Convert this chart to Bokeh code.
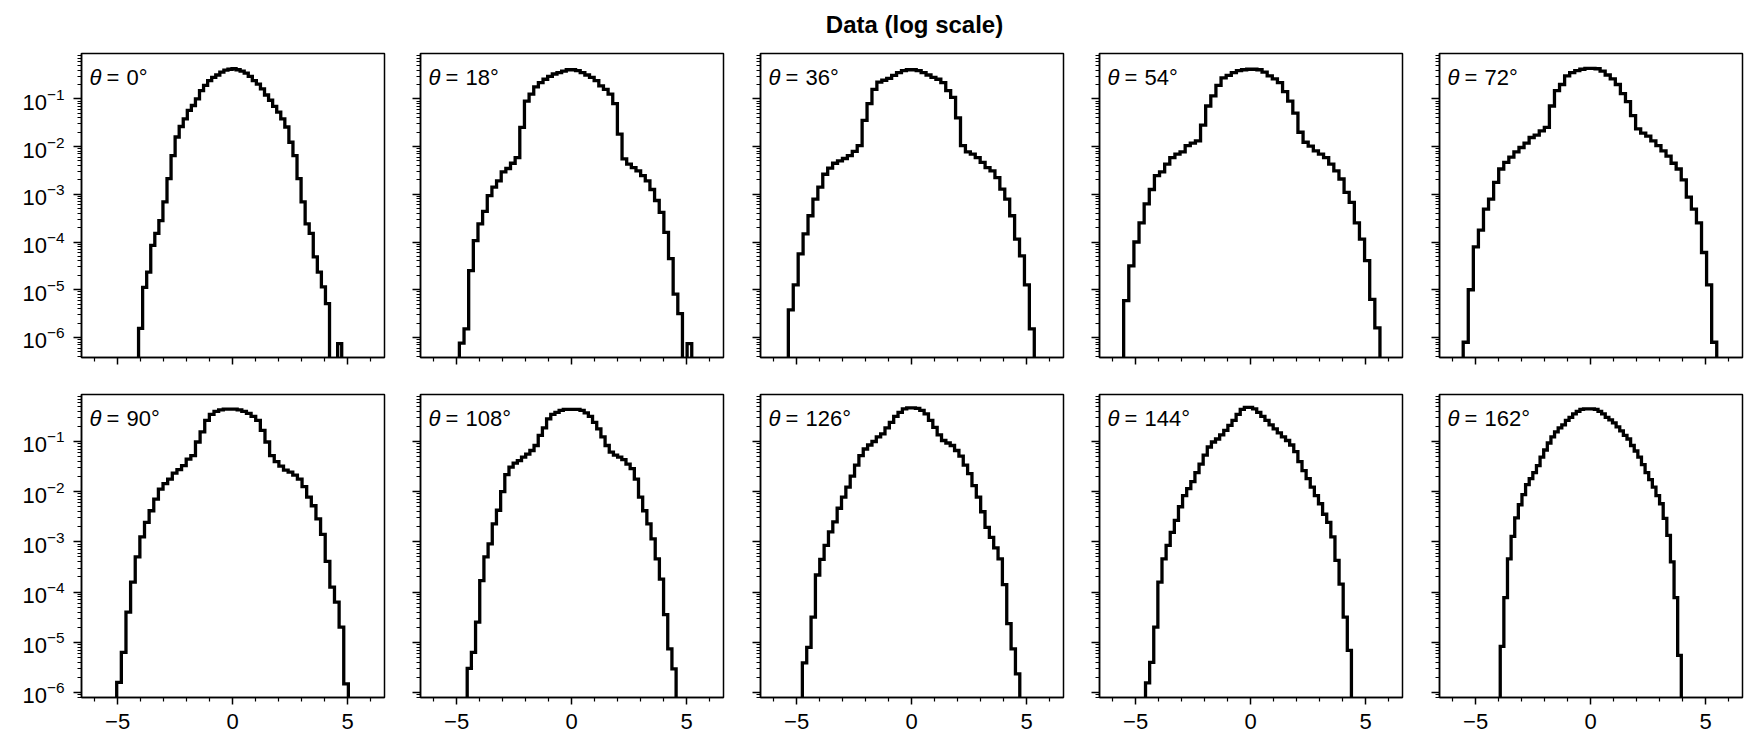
import numpy as np
from bokeh.plotting import figure
from bokeh.layouts import row, column
from bokeh.models import (Range1d, FixedTicker, CustomJSTickFormatter, Label,
                          LogTickFormatter)
from bokeh.embed import file_html
from bokeh.resources import INLINE

# ---------------- data ----------------
theta_deg = [0, 18, 36, 54, 72, 90, 108, 126, 144, 162]

# histogram range (first and last bin edge) of every panel; 50 bins each
bin_lo = [-4.09, -4.88, -5.36, -5.52, -5.54, -5.04, -4.54, -4.75, -4.57, -3.93]
bin_hi = [4.74, 5.22, 5.33, 5.62, 5.48, 5.03, 4.54, 4.70, 4.38, 3.94]

# log10(density) of every bin (None = empty bin)
log_density_0 = [-5.81, -4.95, -4.63, -4.07, -3.82, -3.55, -3.16, -2.67, -2.19, -1.80,
                 -1.58, -1.42, -1.24, -1.14, -1.00, -0.83, -0.72, -0.62, -0.55, -0.50,
                 -0.44, -0.40, -0.38, -0.37, -0.39, -0.42, -0.46, -0.53, -0.62, -0.69,
                 -0.79, -0.92, -1.03, -1.16, -1.28, -1.42, -1.59, -1.91, -2.19, -2.67,
                 -3.16, -3.62, -3.82, -4.31, -4.63, -4.94, -5.29, None, None, -6.13]
log_density_18 = [-6.12, -5.82, -4.60, -3.97, -3.62, -3.36, -3.03, -2.85, -2.72, -2.53,
                  -2.46, -2.35, -2.23, -1.60, -1.05, -0.90, -0.75, -0.66, -0.59, -0.53,
                  -0.48, -0.45, -0.42, -0.39, -0.39, -0.41, -0.45, -0.50, -0.55, -0.62,
                  -0.73, -0.80, -0.90, -1.10, -1.74, -2.26, -2.37, -2.44, -2.51, -2.61,
                  -2.72, -2.90, -3.13, -3.38, -3.80, -4.35, -5.09, -5.50, None, -6.13]
log_density_36 = [-5.42, -4.90, -4.25, -3.83, -3.45, -3.10, -2.85, -2.58, -2.45, -2.35,
                  -2.30, -2.25, -2.19, -2.10, -1.98, -1.45, -1.10, -0.80, -0.65, -0.61,
                  -0.57, -0.51, -0.45, -0.41, -0.39, -0.39, -0.41, -0.45, -0.50, -0.55,
                  -0.59, -0.66, -0.83, -0.97, -1.40, -1.98, -2.11, -2.16, -2.23, -2.33,
                  -2.44, -2.51, -2.65, -2.89, -3.10, -3.45, -3.94, -4.29, -4.90, -5.82]
log_density_54 = [-5.23, -4.50, -4.00, -3.60, -3.20, -2.90, -2.61, -2.53, -2.37, -2.23,
                  -2.16, -2.11, -1.98, -1.93, -1.88, -1.55, -1.15, -0.94, -0.72, -0.56,
                  -0.51, -0.45, -0.41, -0.39, -0.38, -0.38, -0.39, -0.44, -0.52, -0.58,
                  -0.66, -0.85, -1.05, -1.30, -1.70, -1.91, -1.99, -2.09, -2.16, -2.23,
                  -2.37, -2.51, -2.68, -2.96, -3.17, -3.60, -3.94, -4.39, -5.20, -5.80]
log_density_72 = [-6.10, -5.00, -4.10, -3.75, -3.31, -3.10, -2.75, -2.47, -2.33, -2.22,
                  -2.11, -2.02, -1.93, -1.81, -1.76, -1.67, -1.60, -1.15, -0.83, -0.70,
                  -0.52, -0.45, -0.41, -0.38, -0.36, -0.36, -0.37, -0.42, -0.50, -0.58,
                  -0.70, -0.89, -1.06, -1.35, -1.63, -1.72, -1.78, -1.88, -1.98, -2.09,
                  -2.20, -2.35, -2.47, -2.70, -3.06, -3.31, -3.60, -4.22, -4.90, -6.10]
log_density_90 = [-5.80, -5.20, -4.40, -3.80, -3.30, -2.90, -2.61, -2.38, -2.15, -1.95,
                  -1.84, -1.75, -1.63, -1.56, -1.48, -1.35, -1.28, -1.01, -0.81, -0.58,
                  -0.46, -0.40, -0.37, -0.355, -0.355, -0.355, -0.37, -0.40, -0.44, -0.50,
                  -0.58, -0.78, -1.01, -1.28, -1.40, -1.49, -1.57, -1.61, -1.67, -1.75,
                  -1.90, -2.11, -2.28, -2.54, -2.85, -3.39, -3.90, -4.20, -4.70, -5.83]
log_density_108 = [-5.52, -5.20, -4.60, -3.77, -3.30, -3.04, -2.64, -2.37, -2.00, -1.66,
                   -1.51, -1.43, -1.38, -1.31, -1.25, -1.18, -1.08, -0.88, -0.73, -0.55,
                   -0.46, -0.42, -0.38, -0.36, -0.36, -0.36, -0.36, -0.38, -0.43, -0.50,
                   -0.62, -0.75, -0.91, -1.08, -1.21, -1.27, -1.31, -1.36, -1.45, -1.54,
                   -1.75, -2.11, -2.38, -2.64, -2.94, -3.34, -3.74, -4.45, -5.13, -5.53]
log_density_126 = [-5.41, -5.10, -4.50, -3.66, -3.35, -3.07, -2.80, -2.60, -2.33, -2.11,
                   -1.91, -1.69, -1.47, -1.28, -1.15, -1.07, -1.00, -0.91, -0.85, -0.73,
                   -0.62, -0.50, -0.42, -0.35, -0.33, -0.33, -0.34, -0.38, -0.45, -0.58,
                   -0.72, -0.87, -0.98, -1.03, -1.08, -1.18, -1.29, -1.47, -1.64, -1.88,
                   -2.11, -2.40, -2.71, -2.91, -3.12, -3.34, -3.85, -4.63, -5.13, -5.63]
log_density_144 = [-5.81, -5.40, -4.70, -3.80, -3.34, -3.07, -2.81, -2.57, -2.30, -2.08,
                   -1.94, -1.80, -1.62, -1.45, -1.27, -1.11, -1.01, -0.95, -0.87, -0.78,
                   -0.68, -0.58, -0.46, -0.36, -0.32, -0.32, -0.35, -0.42, -0.50, -0.58,
                   -0.67, -0.75, -0.83, -0.91, -0.98, -1.07, -1.20, -1.40, -1.58, -1.74,
                   -1.91, -2.08, -2.24, -2.45, -2.61, -2.90, -3.37, -3.84, -4.50, -5.16]
log_density_162 = [-5.08, -4.11, -3.34, -2.89, -2.52, -2.26, -2.06, -1.86, -1.74, -1.62,
                   -1.48, -1.31, -1.17, -1.03, -0.91, -0.81, -0.73, -0.67, -0.58, -0.52,
                   -0.45, -0.40, -0.36, -0.35, -0.35, -0.35, -0.36, -0.40, -0.45, -0.52,
                   -0.57, -0.63, -0.71, -0.79, -0.88, -0.95, -1.08, -1.19, -1.31, -1.46,
                   -1.62, -1.76, -1.91, -2.08, -2.24, -2.53, -2.87, -3.40, -4.11, -5.26]

log_densities = [log_density_0, log_density_18, log_density_36, log_density_54,
                 log_density_72, log_density_90, log_density_108, log_density_126,
                 log_density_144, log_density_162]

x_major_ticks = [-5, 0, 5]
x_minor_ticks = [-6, -4, -3, -2, -1, 1, 2, 3, 4, 6]
x_tick_labels = {-5: "\u22125", 0: "0", 5: "5"}
y_major_ticks = [1e-6, 1e-5, 1e-4, 1e-3, 1e-2, 1e-1]
y_minor_ticks = [k * 10.0 ** e for e in range(-7, 0) for k in range(2, 10)]

# ---------------- layout / style ----------------
FONT = "Liberation Sans"
X_RANGE = (-6.57, 6.60)
Y_RANGE_ROW = [(10 ** -6.42, 10 ** -0.05), (10 ** -6.10, 10 ** -0.064)]
FRAME_W = 303
FRAME_H = [304, 303]
BORDER_LEFT = [81, 34, 35, 34, 35]
BORDER_BOTTOM = [32, 45]
TOTAL_W = 1744
TITLE_H = 48


def step_outline(lo, hi, logd):
    edges = np.linspace(lo, hi, len(logd) + 1)
    floor = 1e-12
    xs, ys = [edges[0]], [floor]
    for i, v in enumerate(logd):
        h = floor if v is None else 10.0 ** v
        xs += [edges[i], edges[i + 1]]
        ys += [h, h]
    xs.append(edges[-1])
    ys.append(floor)
    return xs, ys


blank = CustomJSTickFormatter(code="return ''")

figs = []
for i, th in enumerate(theta_deg):
    r, c = divmod(i, 5)
    ylo, yhi = Y_RANGE_ROW[r]
    p = figure(frame_width=FRAME_W, frame_height=FRAME_H[r],
               x_range=Range1d(*X_RANGE), y_range=Range1d(ylo, yhi),
               y_axis_type="log", output_backend="svg", toolbar_location=None,
               min_border_left=BORDER_LEFT[c], min_border_right=2,
               min_border_top=5, min_border_bottom=BORDER_BOTTOM[r])
    p.grid.visible = False
    p.outline_line_color = "black"
    p.outline_line_width = 1.5
    p.background_fill_color = "white"
    p.border_fill_color = "white"

    xs, ys = step_outline(bin_lo[i], bin_hi[i], log_densities[i])
    p.line(xs, ys, line_color="black", line_width=3.3, line_join="miter")

    # x axis
    xa = p.xaxis[0]
    xa.ticker = FixedTicker(ticks=x_major_ticks, minor_ticks=x_minor_ticks)
    xa.major_tick_out = 7
    xa.major_tick_in = 0
    xa.minor_tick_out = 4
    xa.minor_tick_in = 0
    xa.axis_line_width = 1.5
    xa.major_tick_line_width = 1.5
    xa.minor_tick_line_width = 1.2
    xa.major_label_text_font = FONT
    xa.major_label_text_color = "black"
    if r == 1:
        xa.major_label_overrides = x_tick_labels
        xa.major_label_text_font_size = "22px"
        xa.major_label_standoff = 9
    else:
        xa.formatter = blank
        xa.major_label_text_font_size = "1px"
        xa.major_label_standoff = 0

    # y axis
    ya = p.yaxis[0]
    ya.ticker = FixedTicker(ticks=y_major_ticks, minor_ticks=y_minor_ticks)
    ya.major_tick_out = 8
    ya.major_tick_in = 0
    ya.minor_tick_out = 4
    ya.minor_tick_in = 0
    ya.axis_line_width = 1.5
    ya.major_tick_line_width = 1.5
    ya.minor_tick_line_width = 1.0
    ya.major_label_text_font = FONT
    ya.major_label_text_color = "black"
    if c == 0:
        ya.formatter = LogTickFormatter()
        ya.major_label_text_font_size = "22px"
        ya.major_label_standoff = 9
    else:
        ya.formatter = blank
        ya.major_label_text_font_size = "1px"
        ya.major_label_standoff = 0

    # panel label: theta = ..°
    for txt, off, style in [("\u03b8", 8, "italic"), ("=", 25, "normal"),
                            (f"{th}\u00b0", 45, "normal")]:
        p.add_layout(Label(x=X_RANGE[0], y=yhi, x_offset=off, y_offset=-24,
                           text=txt, text_font=FONT, text_font_size="22px",
                           text_font_style=style, text_baseline="middle",
                           text_align="left", text_color="black"))
    figs.append(p)

tf = figure(frame_width=TOTAL_W, frame_height=TITLE_H, x_range=Range1d(0, TOTAL_W),
            y_range=Range1d(0, TITLE_H), toolbar_location=None, output_backend="svg",
            min_border=0, x_axis_location=None, y_axis_location=None)
tf.outline_line_color = None
tf.grid.visible = False
tf.add_layout(Label(x=914, y=TITLE_H - 24, text="Data (log scale)", text_font=FONT,
                    text_font_size="24px", text_font_style="bold",
                    text_align="center", text_baseline="middle", text_color="black"))

layout = column(tf, row(*figs[:5], spacing=0), row(*figs[5:], spacing=0), spacing=0)

with open("out.html", "w") as f:
    f.write(file_html(layout, INLINE))
